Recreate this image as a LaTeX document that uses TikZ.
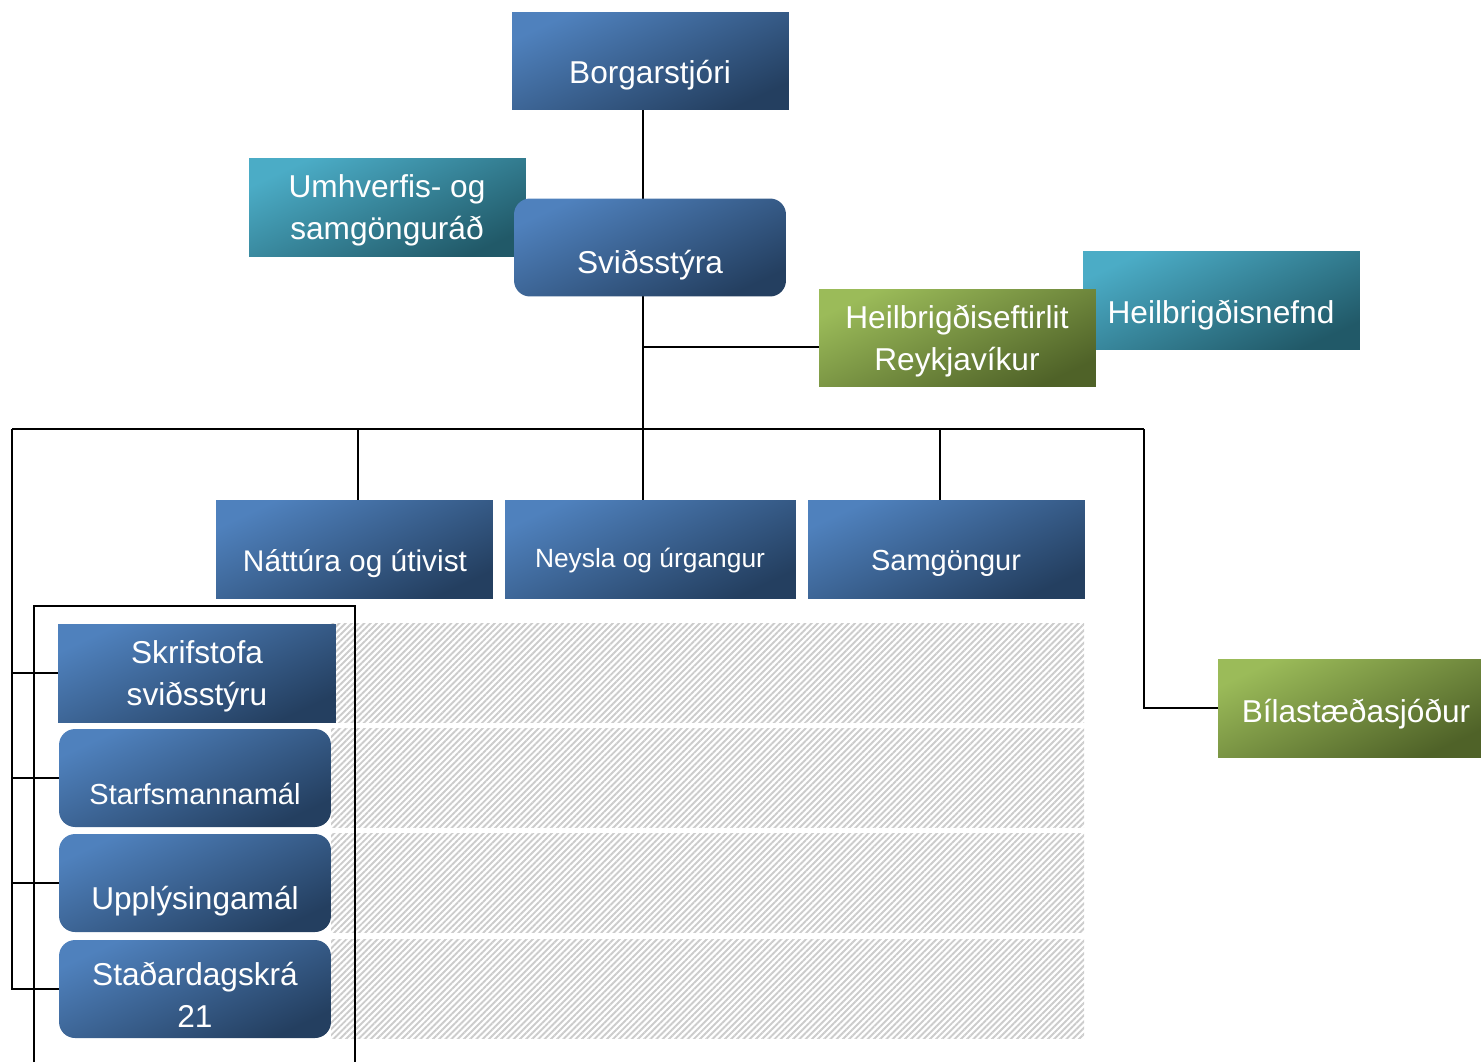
\documentclass[tikz,border=0pt]{standalone}
\usepackage{fontspec}
\setmainfont{Liberation Sans}
\usetikzlibrary{positioning,patterns.meta,backgrounds}
\definecolor{blueL}{HTML}{4F81BD}
\definecolor{blueD}{HTML}{243F60}
\definecolor{tealL}{HTML}{4BACC6}
\definecolor{tealD}{HTML}{215968}
\definecolor{greenL}{HTML}{9BBB59}
\definecolor{greenD}{HTML}{4F6228}

\begin{document}
\begin{tikzpicture}[x=0.02cm,y=-0.02cm,
    orgbox/.style={rectangle, inner sep=0, minimum width=5.54cm, minimum height=1.96cm,
      top color=blueL, bottom color=blueD, shading angle=25},
    roundbox/.style={orgbox, rounded corners=0.32cm, minimum width=5.44cm},
    tealbox/.style={orgbox, top color=tealL, bottom color=tealD, shading angle=25},
    greenbox/.style={orgbox, top color=greenL, bottom color=greenD, shading angle=25},
    txt/.style={text=white, align=center, inner sep=0, font=\fontsize{18}{24}\selectfont},
    hatch/.style={pattern={Lines[angle=45,distance=2.5pt,line width=1.1pt]}, pattern color=gray!40},
    conn/.style={line width=1.1pt}
    ]
\useasboundingbox (0,0) rectangle (1481,1062);

% top
\node[orgbox] (borg) at (650.5,61) {};
\node[tealbox] (umh) at (387.5,207.5) {};
\node[roundbox] (svid) at (650,247.5) {};
\node[tealbox] (hnef) at (1221.5,300.5) {};
\node[greenbox] (heft) at (957.5,338) {};

% second level
\node[orgbox] (nat) at (354.5,549) {};
\node[orgbox, minimum width=5.82cm] (ney) at (650.5,549) {};
\node[orgbox] (samg) at (946.5,549) {};
\node[greenbox, minimum width=5.26cm] (bila) at (1349.5,708) {};

% staff units
\node[orgbox, minimum width=5.56cm] (skr) at (197,673) {};
\node[roundbox] (star) at (195,778) {};
\node[roundbox] (upp) at (195,883) {};
\node[roundbox] (stad) at (195,989) {};

% texts
\node[txt] (borg-t) at (650,75) {Borgarstjóri};
\node[txt] (umh-t) at (387,210) {Umhverfis- og\\samgönguráð};
\node[txt] (svid-t) at (650,265) {Sviðsstýra};
\node[txt] (hnef-t) at (1221,315) {Heilbrigðisnefnd};
\node[txt] (heft-t) at (957,341) {Heilbrigðiseftirlit\\Reykjavíkur};
\node[txt, font=\fontsize{17}{24}\selectfont] (nat-t) at (355,564) {Náttúra og útivist};
\node[txt, font=\fontsize{15}{24}\selectfont] (ney-t) at (650,561) {Neysla og úrgangur};
\node[txt, font=\fontsize{16.5}{24}\selectfont] (samg-t) at (946,563) {Samgöngur};
\node[txt] (bila-t) at (1356,714) {Bílastæðasjóður};
\node[txt] (skr-t) at (197,676) {Skrifstofa\\sviðsstýru};
\node[txt, font=\fontsize{16.5}{24}\selectfont] (star-t) at (195,794) {Starfsmannamál};
\node[txt] (upp-t) at (195,901) {Upplýsingamál};
\node[txt] (stad-t) at (195,995) {Staðardagskrá\\21};

\begin{scope}[on background layer]
% hatched rows
\foreach \r in {skr,star,upp,stad}
  \path[hatch] (331,0 |- \r.north) rectangle (1084,0 |- \r.south);
\coordinate (busL) at (12,429);
\coordinate (busR) at (1144,429);
\coordinate (trunk) at (643,429);
\coordinate (natj) at (358,429);
\coordinate (samgj) at (940,429);
\coordinate (hj) at (643,347);
\draw[conn] (borg.south -| trunk) -- (ney.north -| trunk);
\draw[conn] (hj) -- (hj -| heft.west);
\draw[conn] (busL) -- (busR);
\draw[conn] (natj) -- (natj |- nat.north);
\draw[conn] (samgj) -- (samgj |- samg.north);
\draw[conn] (busR) |- (bila.west);
\draw[conn] (busL) |- (stad.west);
\foreach \r in {skr,star,upp}
  \draw[conn] (busL |- \r.west) -- (\r.west);
% frame round the staff units
\draw[conn] (34,1062) -- (34,606) -- (355,606) -- (355,1062);
\end{scope}
\end{tikzpicture}
\end{document}
